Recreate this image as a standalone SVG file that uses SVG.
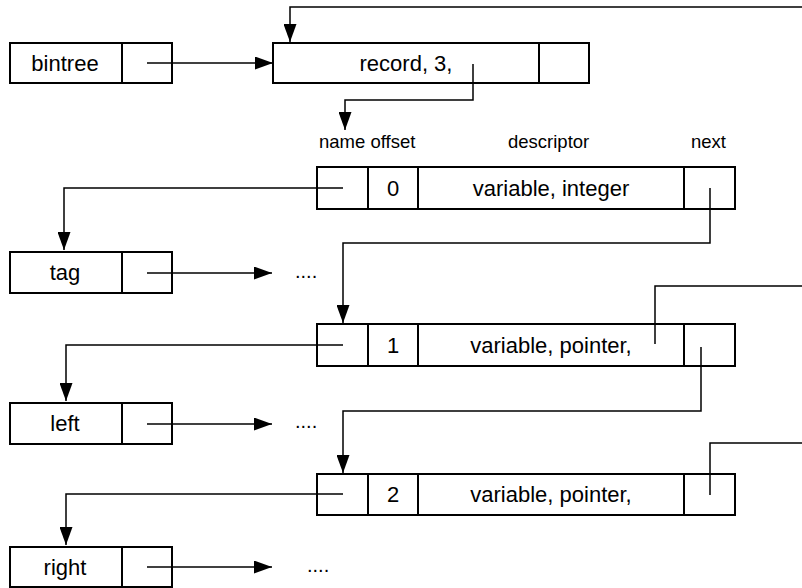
<svg xmlns="http://www.w3.org/2000/svg" width="802" height="588" viewBox="0 0 802 588">
<defs>
<style>
.box{fill:#fff;stroke:#000;stroke-width:2}
.div{stroke:#000;stroke-width:2}
.t{font-family:"Liberation Sans",Arial,sans-serif;font-size:22px;fill:#000;text-anchor:middle}
.lbl{font-family:"Liberation Sans",Arial,sans-serif;font-size:18.5px;fill:#000}
.dots{font-family:"Liberation Sans",Arial,sans-serif;font-size:20px;fill:#000}
.c{fill:none;stroke:#000;stroke-width:1.5}
</style>
<marker id="ah" markerUnits="userSpaceOnUse" viewBox="0 0 18 13" refX="18" refY="6.5" markerWidth="18" markerHeight="13" orient="auto">
<path d="M0,0 L18,6.5 L0,13 z" fill="#000"/>
</marker>
</defs>
<rect width="802" height="588" fill="#fff"/>

<g id="bintree">
<rect class="box" x="10" y="43" width="162" height="40"/>
<line class="div" x1="122" y1="43" x2="122" y2="83"/>
<text class="t" x="65" y="71">bintree</text>
</g>

<g id="record">
<rect class="box" x="273" y="43" width="316" height="40"/>
<line class="div" x1="539" y1="43" x2="539" y2="83"/>
<text class="t" x="406" y="71">record, 3,</text>
</g>

<g id="labels">
<text class="lbl" x="319" y="148">name offset</text>
<text class="lbl" x="508" y="148">descriptor</text>
<text class="lbl" x="691" y="148">next</text>
</g>

<g id="row0">
<rect class="box" x="317" y="167" width="418" height="42"/>
<line class="div" x1="368" y1="167" x2="368" y2="209"/>
<line class="div" x1="418" y1="167" x2="418" y2="209"/>
<line class="div" x1="684" y1="167" x2="684" y2="209"/>
<text class="t" x="393" y="195.5">0</text>
<text class="t" x="551" y="195.5">variable, integer</text>
</g>

<g id="row1">
<rect class="box" x="317" y="324" width="418" height="42"/>
<line class="div" x1="368" y1="324" x2="368" y2="366"/>
<line class="div" x1="418" y1="324" x2="418" y2="366"/>
<line class="div" x1="684" y1="324" x2="684" y2="366"/>
<text class="t" x="393" y="352.5">1</text>
<text class="t" x="551" y="352.5">variable, pointer,</text>
</g>

<g id="row2">
<rect class="box" x="317" y="474" width="418" height="41"/>
<line class="div" x1="368" y1="474" x2="368" y2="515"/>
<line class="div" x1="418" y1="474" x2="418" y2="515"/>
<line class="div" x1="684" y1="474" x2="684" y2="515"/>
<text class="t" x="393" y="502">2</text>
<text class="t" x="551" y="502">variable, pointer,</text>
</g>

<g id="tag">
<rect class="box" x="10" y="252" width="162" height="41"/>
<line class="div" x1="122" y1="252" x2="122" y2="293"/>
<text class="t" x="65" y="280">tag</text>
</g>

<g id="left">
<rect class="box" x="10" y="403" width="162" height="41"/>
<line class="div" x1="122" y1="403" x2="122" y2="444"/>
<text class="t" x="65" y="431">left</text>
</g>

<g id="right">
<rect class="box" x="10" y="547" width="162" height="40"/>
<line class="div" x1="122" y1="547" x2="122" y2="587"/>
<text class="t" x="65" y="574.5">right</text>
</g>

<g id="ellipses">
<text class="dots" x="295" y="278">....</text>
<text class="dots" x="295" y="428">....</text>
<text class="dots" x="307" y="572">....</text>
</g>

<g id="connectors">
<path class="c" d="M802 7 H290 V42" marker-end="url(#ah)"/>
<path class="c" d="M147 63 H273" marker-end="url(#ah)"/>
<path class="c" d="M473 64 V100 H345 V130" marker-end="url(#ah)"/>
<path class="c" d="M343 188 H64 V250" marker-end="url(#ah)"/>
<path class="c" d="M147 273 H272" marker-end="url(#ah)"/>
<path class="c" d="M710 188 V243 H343 V323" marker-end="url(#ah)"/>
<path class="c" d="M802 286 H655 V344"/>
<path class="c" d="M343 345 H66 V401" marker-end="url(#ah)"/>
<path class="c" d="M147 424 H272" marker-end="url(#ah)"/>
<path class="c" d="M701 347 V411 H343 V473" marker-end="url(#ah)"/>
<path class="c" d="M802 443 H710 V495"/>
<path class="c" d="M343 494 H66 V545" marker-end="url(#ah)"/>
<path class="c" d="M147 567 H272" marker-end="url(#ah)"/>
</g>
</svg>
